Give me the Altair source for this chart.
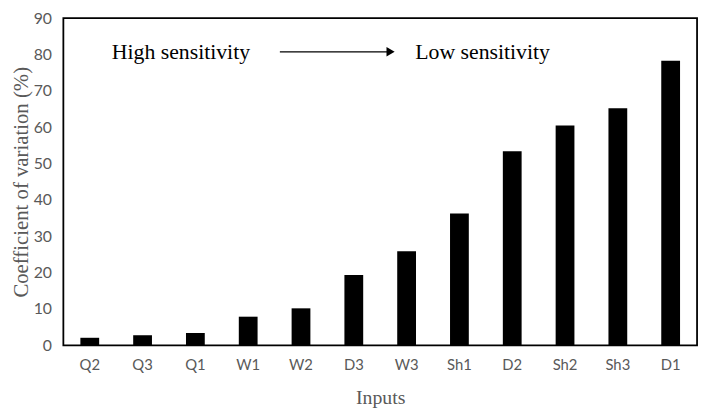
import altair as alt
import pandas as pd

categories = ["Q2", "Q3", "Q1", "W1", "W2", "D3", "W3", "Sh1", "D2", "Sh2", "Sh3", "D1"]
values = [2.1, 2.8, 3.4, 7.9, 10.2, 19.4, 25.9, 36.3, 53.4, 60.5, 65.2, 78.3]

ann_text = ["High sensitivity", "Low sensitivity"]

df = pd.DataFrame({"Inputs": categories, "CV": values})

GRAY = "#595959"

bars = alt.Chart(df).mark_bar(color="black", size=19).encode(
    x=alt.X("Inputs:N", sort=categories, title="Inputs",
            axis=alt.Axis(labelAngle=0, labelFont="Lato", labelFontSize=15, labelColor=GRAY,
                          ticks=False, domain=False, labelPadding=12,
                          titleFont="Liberation Serif", titleFontSize=20, titleColor=GRAY,
                          titleFontWeight="normal", titlePadding=16)),
    y=alt.Y("CV:Q", title="Coefficient of variation (%)",
            scale=alt.Scale(domain=[0, 90], nice=False),
            axis=alt.Axis(values=list(range(0, 91, 10)), grid=False, ticks=False, domain=False,
                          labelFont="Lato", labelFontSize=16, labelColor=GRAY, labelPadding=12,
                          labelOverlap=False,
                          titleFont="Liberation Serif", titleFontSize=21, titleColor=GRAY,
                          titleFontWeight="normal", titlePadding=2)),
)

ann_df = pd.DataFrame({"t": [ann_text[0]]})
ann_df2 = pd.DataFrame({"t": [ann_text[1]]})

t1 = alt.Chart(ann_df).mark_text(align="left", baseline="middle", font="Liberation Serif",
                                 fontSize=22, color="black").encode(
    x=alt.value(49), y=alt.value(34), text="t:N")
t2 = alt.Chart(ann_df2).mark_text(align="left", baseline="middle", font="Liberation Serif",
                                  fontSize=22, color="black").encode(
    x=alt.value(356), y=alt.value(34), text="t:N")
arrow_line = alt.Chart(ann_df).mark_rule(color="black", strokeWidth=1.3).encode(
    x=alt.value(219), x2=alt.value(328), y=alt.value(34))
arrow_head = alt.Chart(ann_df).mark_point(shape="triangle-right", filled=True, color="black",
                                          size=90, opacity=1).encode(
    x=alt.value(331), y=alt.value(34))

chart = alt.layer(bars, t1, t2, arrow_line, arrow_head).properties(
    width=641, height=331,
    background="white",
    autosize=alt.AutoSizeParams(type="none"),
    padding={"left": 56, "top": 8, "right": 5, "bottom": 61},
).configure_view(stroke="black", strokeWidth=1.8)

chart.save("out.html", embed_options={"renderer": "svg", "actions": False})
